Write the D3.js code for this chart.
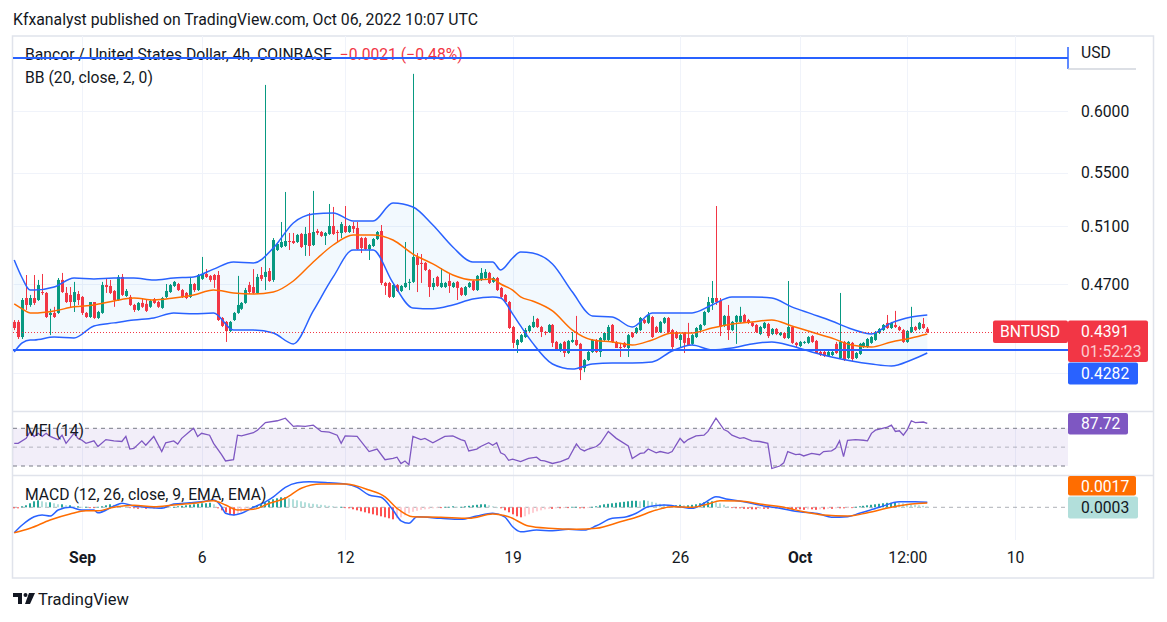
<!DOCTYPE html>
<html>
<head>
<meta charset="utf-8">
<script src="https://cdn.jsdelivr.net/npm/d3@7"></script>
<style>
body { margin: 0; background: #ffffff; }
svg { font-family: Roboto, "Noto Sans", sans-serif; }
</style>
</head>
<body>
<div id="chart"></div>
<script>
// ---- data ----
// 4h bars, first one opens Aug 29 04:00 UTC
var firstBar = Date.UTC(2022, 7, 29, 4);
var barMs = 4 * 3600 * 1000;

// [open, high, low, close]
var candles = [
  [0.4455,0.4467,0.4404,0.4417],[0.4455,0.4467,0.4349,0.4361],[0.4361,0.4608,0.4349,0.4595],[0.4608,0.4760,0.4531,0.4563],[0.4563,0.4628,0.4551,0.4608],
  [0.4608,0.4760,0.4563,0.4576],[0.4595,0.4727,0.4589,0.4693],[0.4647,0.4767,0.4628,0.4641],[0.4641,0.4647,0.4480,0.4486],[0.4499,0.4538,0.4373,0.4512],
  [0.4512,0.4551,0.4480,0.4486],[0.4512,0.4740,0.4506,0.4727],[0.4727,0.4774,0.4641,0.4647],[0.4641,0.4680,0.4576,0.4582],[0.4628,0.4680,0.4544,0.4582],
  [0.4582,0.4714,0.4518,0.4647],[0.4634,0.4654,0.4563,0.4595],[0.4615,0.4621,0.4499,0.4512],[0.4512,0.4518,0.4480,0.4486],[0.4486,0.4582,0.4480,0.4582],
  [0.4582,0.4582,0.4474,0.4480],[0.4480,0.4525,0.4474,0.4518],[0.4512,0.4714,0.4506,0.4693],[0.4693,0.4734,0.4641,0.4680],[0.4687,0.4727,0.4634,0.4641],
  [0.4654,0.4660,0.4551,0.4595],[0.4595,0.4760,0.4589,0.4747],[0.4747,0.4767,0.4621,0.4628],[0.4621,0.4667,0.4615,0.4654],[0.4615,0.4628,0.4557,0.4563],
  [0.4563,0.4570,0.4518,0.4531],[0.4531,0.4582,0.4525,0.4576],[0.4576,0.4601,0.4544,0.4551],[0.4570,0.4601,0.4518,0.4525],[0.4551,0.4595,0.4544,0.4589],
  [0.4601,0.4608,0.4570,0.4576],[0.4582,0.4589,0.4544,0.4551],[0.4544,0.4615,0.4538,0.4608],[0.4615,0.4700,0.4608,0.4654],[0.4647,0.4700,0.4641,0.4693],
  [0.4687,0.4720,0.4680,0.4714],[0.4700,0.4707,0.4654,0.4660],[0.4660,0.4667,0.4608,0.4615],[0.4641,0.4647,0.4601,0.4608],[0.4615,0.4747,0.4608,0.4700],
  [0.4700,0.4707,0.4647,0.4660],[0.4660,0.4767,0.4654,0.4760],[0.4734,0.4883,0.4727,0.4767],[0.4767,0.4800,0.4740,0.4747],[0.4754,0.4760,0.4714,0.4727],
  [0.4760,0.4767,0.4674,0.4727],[0.4760,0.4787,0.4461,0.4467],[0.4480,0.4486,0.4423,0.4430],[0.4455,0.4461,0.4331,0.4398],[0.4398,0.4461,0.4392,0.4455],
  [0.4467,0.4518,0.4461,0.4512],[0.4512,0.4754,0.4506,0.4563],[0.4538,0.4582,0.4531,0.4576],[0.4576,0.4674,0.4570,0.4660],[0.4693,0.4714,0.4634,0.4647],
  [0.4680,0.4800,0.4634,0.4641],[0.4641,0.4767,0.4634,0.4747],[0.4760,0.4814,0.4720,0.4734],[0.4747,0.6225,0.4660,0.4781],[0.4787,0.4807,0.4714,0.4720],
  [0.4727,0.5015,0.4714,0.5001],[0.4931,0.4980,0.4924,0.4973],[0.4952,0.5130,0.4945,0.4987],[0.4959,0.5352,0.4952,0.4994],[0.4994,0.5051,0.4931,0.4987],
  [0.4994,0.5051,0.4973,0.4980],[0.4987,0.5044,0.4980,0.5037],[0.5044,0.5051,0.4945,0.4952],[0.4966,0.5094,0.4890,0.5044],[0.5051,0.5196,0.4890,0.4959],
  [0.4966,0.5360,0.4959,0.5058],[0.5065,0.5080,0.5037,0.5051],[0.5058,0.5065,0.5023,0.5030],[0.5030,0.5058,0.4966,0.5051],[0.5044,0.5262,0.5037,0.5101],
  [0.5101,0.5240,0.5037,0.5044],[0.5058,0.5073,0.4987,0.5051],[0.5051,0.5130,0.5015,0.5115],[0.5101,0.5247,0.5051,0.5058],[0.5058,0.5108,0.5051,0.5101],
  [0.5101,0.5130,0.5051,0.5080],[0.5087,0.5130,0.4931,0.4938],[0.5015,0.5023,0.4910,0.4945],[0.5015,0.5023,0.4931,0.4938],[0.4938,0.4973,0.4862,0.4966],
  [0.4959,0.5015,0.4952,0.5008],[0.5008,0.5065,0.5001,0.5058],[0.5065,0.5108,0.4693,0.4707],[0.4707,0.4714,0.4628,0.4687],[0.4707,0.4714,0.4608,0.4615],
  [0.4615,0.4700,0.4608,0.4693],[0.4693,0.4700,0.4647,0.4654],[0.4654,0.4693,0.4647,0.4687],[0.4680,0.4987,0.4674,0.4707],[0.4707,0.4734,0.4660,0.4714],
  [0.4714,0.6323,0.4707,0.4883],[0.4883,0.4910,0.4647,0.4828],[0.4842,0.4903,0.4707,0.4835],[0.4842,0.4848,0.4787,0.4794],[0.4794,0.4800,0.4615,0.4680],
  [0.4680,0.4740,0.4660,0.4707],[0.4747,0.4754,0.4680,0.4687],[0.4680,0.4807,0.4674,0.4707],[0.4680,0.4714,0.4674,0.4707],[0.4720,0.4774,0.4641,0.4687],
  [0.4680,0.4714,0.4674,0.4707],[0.4714,0.4720,0.4595,0.4674],[0.4674,0.4680,0.4621,0.4628],[0.4628,0.4687,0.4621,0.4680],[0.4680,0.4714,0.4674,0.4707],
  [0.4720,0.4727,0.4654,0.4660],[0.4660,0.4760,0.4654,0.4754],[0.4727,0.4807,0.4720,0.4774],[0.4740,0.4800,0.4734,0.4781],[0.4774,0.4781,0.4700,0.4707],
  [0.4714,0.4747,0.4707,0.4740],[0.4740,0.4747,0.4654,0.4660],[0.4674,0.4680,0.4608,0.4615],[0.4628,0.4634,0.4576,0.4582],[0.4582,0.4589,0.4411,0.4417],
  [0.4423,0.4430,0.4294,0.4325],[0.4312,0.4349,0.4264,0.4343],[0.4331,0.4380,0.4325,0.4373],[0.4361,0.4417,0.4355,0.4404],[0.4398,0.4436,0.4392,0.4430],
  [0.4423,0.4493,0.4417,0.4455],[0.4474,0.4480,0.4417,0.4423],[0.4423,0.4430,0.4361,0.4392],[0.4392,0.4398,0.4373,0.4386],[0.4392,0.4442,0.4386,0.4436],
  [0.4436,0.4442,0.4300,0.4325],[0.4331,0.4337,0.4276,0.4282],[0.4276,0.4325,0.4270,0.4319],[0.4331,0.4337,0.4240,0.4264],[0.4264,0.4343,0.4258,0.4337],
  [0.4331,0.4392,0.4325,0.4343],[0.4343,0.4493,0.4306,0.4312],[0.4319,0.4325,0.4104,0.4162],[0.4174,0.4228,0.4150,0.4222],[0.4222,0.4276,0.4216,0.4270],
  [0.4270,0.4349,0.4264,0.4343],[0.4343,0.4349,0.4264,0.4270],[0.4270,0.4361,0.4240,0.4355],[0.4343,0.4392,0.4337,0.4386],[0.4343,0.4436,0.4337,0.4423],
  [0.4436,0.4442,0.4325,0.4331],[0.4331,0.4337,0.4294,0.4294],[0.4300,0.4325,0.4240,0.4294],[0.4325,0.4331,0.4294,0.4300],[0.4294,0.4380,0.4240,0.4373],
  [0.4386,0.4392,0.4355,0.4361],[0.4386,0.4423,0.4380,0.4417],[0.4404,0.4486,0.4398,0.4480],[0.4467,0.4474,0.4442,0.4449],[0.4449,0.4518,0.4442,0.4499],
  [0.4486,0.4493,0.4355,0.4361],[0.4423,0.4430,0.4386,0.4392],[0.4392,0.4461,0.4386,0.4455],[0.4449,0.4486,0.4442,0.4480],[0.4480,0.4486,0.4386,0.4392],
  [0.4404,0.4411,0.4282,0.4300],[0.4392,0.4398,0.4349,0.4355],[0.4343,0.4380,0.4300,0.4373],[0.4386,0.4392,0.4264,0.4325],[0.4355,0.4449,0.4306,0.4312],
  [0.4319,0.4380,0.4312,0.4373],[0.4361,0.4423,0.4355,0.4417],[0.4404,0.4442,0.4398,0.4436],[0.4436,0.4525,0.4430,0.4518],[0.4518,0.4615,0.4512,0.4582],
  [0.4576,0.4720,0.4531,0.4608],[0.4608,0.5247,0.4563,0.4582],[0.4589,0.4608,0.4367,0.4423],[0.4430,0.4499,0.4423,0.4493],[0.4493,0.4563,0.4343,0.4404],
  [0.4404,0.4461,0.4398,0.4455],[0.4455,0.4499,0.4319,0.4493],[0.4455,0.4551,0.4449,0.4493],[0.4499,0.4506,0.4449,0.4455],[0.4467,0.4474,0.4442,0.4449],
  [0.4449,0.4455,0.4423,0.4430],[0.4436,0.4442,0.4386,0.4392],[0.4380,0.4430,0.4373,0.4423],[0.4417,0.4455,0.4411,0.4449],[0.4442,0.4449,0.4355,0.4367],
  [0.4380,0.4417,0.4373,0.4411],[0.4411,0.4417,0.4373,0.4380],[0.4373,0.4392,0.4367,0.4386],[0.4386,0.4392,0.4349,0.4355],[0.4355,0.4720,0.4349,0.4423],
  [0.4423,0.4430,0.4319,0.4325],[0.4325,0.4331,0.4294,0.4312],[0.4306,0.4337,0.4300,0.4331],[0.4325,0.4337,0.4319,0.4331],[0.4325,0.4367,0.4319,0.4361],
  [0.4367,0.4373,0.4325,0.4331],[0.4337,0.4343,0.4258,0.4264],[0.4270,0.4276,0.4246,0.4252],[0.4270,0.4276,0.4240,0.4246],[0.4246,0.4276,0.4240,0.4270],
  [0.4252,0.4276,0.4246,0.4270],[0.4319,0.4331,0.4258,0.4264],[0.4234,0.4641,0.4228,0.4331],[0.4331,0.4337,0.4216,0.4222],[0.4234,0.4337,0.4228,0.4331],
  [0.4325,0.4331,0.4216,0.4228],[0.4234,0.4270,0.4228,0.4264],[0.4258,0.4325,0.4252,0.4319],[0.4300,0.4331,0.4294,0.4325],[0.4300,0.4355,0.4294,0.4349],
  [0.4325,0.4367,0.4319,0.4361],[0.4343,0.4398,0.4337,0.4392],[0.4386,0.4417,0.4380,0.4411],[0.4404,0.4442,0.4398,0.4436],[0.4449,0.4499,0.4411,0.4417],
  [0.4417,0.4455,0.4411,0.4449],[0.4436,0.4525,0.4417,0.4423],[0.4423,0.4430,0.4398,0.4404],[0.4404,0.4411,0.4325,0.4331],[0.4331,0.4404,0.4325,0.4398],
  [0.4392,0.4551,0.4386,0.4423],[0.4423,0.4430,0.4398,0.4404],[0.4411,0.4455,0.4404,0.4449],[0.4442,0.4480,0.4411,0.4417],[0.4412,0.4423,0.4386,0.4391]
];

// Bollinger bands, sampled at bar indexes
var bbIdx    = [0,2,4,5,10,15,20,25,30,35,40,45,50,55,60,65,70,75,80,85,90,95,100,105,110,115,120,122,125,127,130,135,140,145,150,155,160,165,170,175,180,185,190,195,200,205,210,215,220,225,229];
var bbUpper  = [0.4862,0.4740,0.4660,0.4660,0.4680,0.4740,0.4734,0.4740,0.4740,0.4727,0.4740,0.4747,0.4800,0.4848,0.4842,0.4945,0.5123,0.5188,0.5196,0.5137,0.5137,0.5270,0.5240,0.5108,0.4952,0.4848,0.4848,0.4794,0.4876,0.4917,0.4910,0.4835,0.4647,0.4493,0.4486,0.4423,0.4512,0.4512,0.4512,0.4563,0.4615,0.4615,0.4608,0.4551,0.4506,0.4461,0.4411,0.4380,0.4449,0.4486,0.4499];
var bbMiddle = [0.4570,0.4538,0.4512,0.4512,0.4525,0.4551,0.4563,0.4589,0.4608,0.4595,0.4608,0.4628,0.4660,0.4641,0.4634,0.4647,0.4720,0.4848,0.4966,0.5037,0.5037,0.5001,0.4903,0.4835,0.4760,0.4727,0.4734,0.4700,0.4660,0.4615,0.4589,0.4525,0.4404,0.4343,0.4331,0.4312,0.4343,0.4386,0.4386,0.4417,0.4442,0.4455,0.4467,0.4430,0.4392,0.4355,0.4312,0.4300,0.4331,0.4355,0.4380];
var bbLower  = [0.4270,0.4325,0.4343,0.4343,0.4361,0.4355,0.4430,0.4449,0.4467,0.4480,0.4512,0.4506,0.4512,0.4404,0.4404,0.4386,0.4319,0.4525,0.4747,0.4931,0.4931,0.4707,0.4544,0.4538,0.4563,0.4601,0.4615,0.4608,0.4506,0.4430,0.4325,0.4198,0.4168,0.4198,0.4204,0.4204,0.4210,0.4276,0.4312,0.4282,0.4294,0.4319,0.4331,0.4306,0.4270,0.4240,0.4216,0.4198,0.4186,0.4222,0.4264];

// MFI (14): [bar index, value]
var mfiPoints = [[0,56],[1,56],[3,64],[4,75],[5,67],[6,72],[7,67],[8,72],[9,67],[11,62],[12,69],[13,56],[14,64],[15,72],[16,64],[17,61],[18,56],[20,60],[21,51],[23,62],[25,60],[27,59],[28,67],[29,47],[30,48],[32,60],[33,53],[35,67],[37,43],[38,57],[40,60],[41,55],[42,64],[44,75],[45,80],[46,67],[47,72],[49,69],[50,56],[52,38],[53,28],[55,30],[56,69],[57,68],[60,73],[61,77],[63,89],[66,92],[68,96],[70,83],[71,84],[73,83],[75,85],[77,75],[79,74],[81,69],[82,56],[83,68],[86,67],[89,43],[91,47],[93,30],[95,32],[96,34],[97,24],[98,28],[99,22],[100,67],[102,62],[103,64],[105,57],[108,67],[110,68],[112,62],[113,60],[114,44],[116,47],[117,51],[119,57],[120,53],[121,57],[122,41],[123,38],[124,29],[125,31],[127,27],[129,32],[131,34],[132,29],[133,28],[135,24],[137,27],[139,32],[141,55],[142,47],[143,44],[144,47],[146,51],[147,56],[149,75],[151,64],[154,52],[155,32],[157,40],[158,41],[159,47],[161,41],[162,43],[164,40],[165,43],[167,64],[168,57],[169,62],[171,68],[173,69],[174,75],[176,96],[178,78],[179,75],[180,69],[182,64],[183,65],[185,60],[187,59],[189,56],[190,16],[192,20],[193,25],[194,43],[196,38],[197,39],[198,36],[200,40],[202,38],[203,43],[205,44],[206,48],[207,60],[208,35],[209,61],[211,62],[213,61],[214,60],[215,72],[216,77],[219,82],[220,85],[221,75],[222,76],[223,69],[224,78],[225,92],[226,89],[228,90],[229,87.72]];
var mfiBands = [80, 50, 20];

// MACD (12, 26, 9): [bar index, value]
var macdPoints = [[0,-0.0102],[2,-0.0071],[5,-0.0038],[7,-0.0031],[9,-0.0035],[11,-0.0011],[14,0],[17,-0.0011],[20,-0.0011],[21,-0.0022],[25,0.0005],[27,0.0016],[30,0.0005],[33,0],[37,-0.0004],[40,0.0013],[44,0.0018],[47,0.0022],[50,0.0029],[52,0.0002],[53,-0.0024],[55,-0.0031],[57,-0.0024],[60,0],[63,0.0022],[65,0.0042],[68,0.0080],[71,0.0098],[74,0.0102],[79,0.0098],[83,0.0093],[86,0.0080],[89,0.0049],[92,0.0040],[95,-0.0011],[97,-0.0054],[99,-0.0064],[101,-0.0038],[107,-0.0044],[112,-0.0048],[116,-0.0035],[120,-0.0024],[123,-0.0038],[125,-0.0078],[127,-0.0098],[131,-0.0091],[135,-0.0094],[139,-0.0088],[143,-0.0091],[146,-0.0074],[150,-0.0044],[153,-0.0040],[156,-0.0024],[159,0.0002],[163,0.0009],[167,0.0002],[170,-0.0004],[173,0.0016],[176,0.0042],[179,0.0032],[183,0.0022],[188,0.0005],[192,-0.0004],[197,-0.0018],[202,-0.0027],[205,-0.0040],[209,-0.0038],[212,-0.0024],[217,0],[222,0.0022],[226,0.0022],[229,0.0020]];
var signalPoints = [[0,-0.0102],[4,-0.0084],[9,-0.0051],[14,-0.0027],[18,-0.0014],[21,-0.0014],[25,0],[30,0.0008],[35,0.0002],[40,0.0009],[45,0.0016],[50,0.0026],[53,0.0009],[56,-0.0011],[60,-0.0008],[64,0.0016],[68,0.0036],[72,0.0076],[77,0.0093],[83,0.0093],[89,0.0069],[93,0.0042],[96,-0.0004],[100,-0.0038],[107,-0.0040],[114,-0.0044],[120,-0.0027],[124,-0.0038],[129,-0.0075],[134,-0.0084],[141,-0.0088],[146,-0.0084],[152,-0.0058],[156,-0.0040],[161,-0.0011],[165,0.0002],[170,0],[174,0.0013],[177,0.0026],[182,0.0025],[187,0.0013],[193,0],[198,-0.0018],[203,-0.0031],[209,-0.0035],[214,-0.0022],[220,0],[225,0.0013],[229,0.0017]];
// histogram, one per bar, in units of 0.0001
var histE4 = [
  -4,-4,4,8,16,24,28,24,20,20,
  16,12,12,8,8,4,4,2,2,-2,
  -2,2,4,8,12,10,8,4,2,-2,
  -4,-6,-4,-6,-4,-4,-2,2,4,2,
  2,4,6,8,10,12,14,16,16,18,
  12,-4,-12,-20,-28,-32,-28,-20,-12,-4,
  4,8,14,20,26,32,36,40,40,36,
  32,28,24,20,16,14,12,10,8,6,
  4,2,2,-2,-4,-8,-12,-16,-20,-24,
  -28,-32,-36,-40,-44,-48,-44,-40,-32,-24,
  -18,-14,-10,-8,-6,-4,-2,-2,2,2,
  4,2,2,4,6,8,10,12,12,8,
  4,0,-4,-12,-20,-28,-36,-40,-36,-28,
  -22,-16,-12,-8,-6,-6,-4,-4,-2,-2,
  2,2,-4,-4,-2,2,4,8,12,14,
  16,18,20,22,24,26,26,24,28,26,
  22,18,14,12,10,8,8,10,8,8,
  10,12,16,20,22,24,20,16,10,4,
  -2,-4,-4,-6,-6,-8,-8,-6,-6,-6,
  -4,-4,-4,-4,-6,-8,-8,-8,-10,-8,
  -8,-10,-8,-8,-6,-6,-4,-4,-4,-2,
  -2,2,4,6,8,10,12,14,16,18,
  18,20,18,16,14,12,10,8,6,3
];

// axes
var priceTicks = [0.60, 0.55, 0.51, 0.47];
var priceGrid = [0.60, 0.55, 0.51, 0.47, 0.4145];
var timeTicks = [Date.UTC(2022,8,1), Date.UTC(2022,8,6), Date.UTC(2022,8,12), Date.UTC(2022,8,19), Date.UTC(2022,8,26), Date.UTC(2022,9,1), Date.UTC(2022,9,5,12), Date.UTC(2022,9,10)];
var timeLabels = ["Sep", "6", "12", "19", "26", "Oct", "12:00", "10"];
var boldLabels = ["Sep", "Oct"];

// drawings / last values
var lastPrice = 0.4391;
var supportLine = 0.4282;
var topLine = 0.6467;

// ---- layout ----
var svgWidth = 1167, svgHeight = 622;
var plot = { left: 13, right: 1068 };
var pricePane = { top: 36, bottom: 411 };
var mfiPane = { top: 412, bottom: 475 };
var macdPane = { top: 476, bottom: 540 };
var fontSize = 15.7;

var up = "#089981", down = "#F23645";

var svg = d3.select("#chart").append("svg")
    .attr("width", svgWidth)
    .attr("height", svgHeight);

var barTime = function(i) { return new Date(firstBar + i * barMs); };

var x = d3.scaleUtc()
    .domain([new Date(Date.UTC(2022, 8, 1)), new Date(Date.UTC(2022, 9, 10))])
    .range([82, 1015]);

var yPrice = d3.scaleLog().domain([0.47, 0.60]).range([284, 111]);
var yMfi = d3.scaleLinear().domain([20, 80]).range([466, 428.3]);
var yMacd = d3.scaleLinear().domain([0, 0.01]).range([507.3, 482.3]);

// clip paths for the three panes
var defs = svg.append("defs");
[["clipPrice", pricePane], ["clipMfi", mfiPane], ["clipMacd", macdPane]].forEach(function(c) {
    defs.append("clipPath").attr("id", c[0]).append("rect")
        .attr("x", plot.left).attr("y", c[1].top)
        .attr("width", plot.right - plot.left).attr("height", c[1].bottom - c[1].top);
});

// header
svg.append("text")
    .attr("x", 13).attr("y", 19).attr("dy", "0.35em")
    .attr("font-size", 15.8).attr("fill", "#131722")
    .text("Kfxanalyst published on TradingView.com, Oct 06, 2022 10:07 UTC");

// frame
svg.append("rect")
    .attr("x", 12.5).attr("y", 36).attr("width", 1141).attr("height", 542)
    .attr("fill", "none").attr("stroke", "#e0e3eb").attr("stroke-width", 1.5);

// vertical grid
svg.append("g").selectAll("line")
    .data(timeTicks)
    .enter().append("line")
    .attr("x1", d => Math.round(x(d)) + 0.5).attr("x2", d => Math.round(x(d)) + 0.5)
    .attr("y1", pricePane.top).attr("y2", macdPane.bottom)
    .attr("stroke", "#f0f3fa");

// horizontal price grid
svg.append("g").selectAll("line")
    .data(priceGrid)
    .enter().append("line")
    .attr("x1", plot.left).attr("x2", plot.right)
    .attr("y1", d => Math.round(yPrice(d)) + 0.5).attr("y2", d => Math.round(yPrice(d)) + 0.5)
    .attr("stroke", "#f0f3fa");

// pane separators
[mfiPane.top - 0.5, macdPane.top - 0.5].forEach(function(yy) {
    svg.append("line").attr("x1", 12).attr("x2", 1154).attr("y1", yy).attr("y2", yy)
        .attr("stroke", "#e0e3eb").attr("stroke-width", 1.5);
});

// ---- price pane ----
var pricePlot = svg.append("g").attr("clip-path", "url(#clipPrice)");

var bbData = bbIdx.map(function(d, k) {
    return { t: barTime(d), u: bbUpper[k], m: bbMiddle[k], l: bbLower[k] };
});

pricePlot.append("path")
    .datum(bbData)
    .attr("fill", "rgba(33,150,243,0.06)")
    .attr("d", d3.area().curve(d3.curveMonotoneX)
        .x(d => x(d.t)).y0(d => yPrice(d.l)).y1(d => yPrice(d.u)));

// candles
var candleGroup = pricePlot.append("g");
candleGroup.selectAll(".wick")
    .data(candles)
    .enter().append("rect")
    .attr("class", "wick")
    .attr("x", (d, i) => Math.round(x(barTime(i))))
    .attr("width", 1)
    .attr("y", d => yPrice(d[1]))
    .attr("height", d => Math.max(1, yPrice(d[2]) - yPrice(d[1])))
    .attr("fill", d => d[3] >= d[0] ? up : down);

candleGroup.selectAll(".body")
    .data(candles)
    .enter().append("rect")
    .attr("class", "body")
    .attr("x", (d, i) => Math.round(x(barTime(i))) - 1)
    .attr("width", 3)
    .attr("y", d => yPrice(Math.max(d[0], d[3])))
    .attr("height", d => Math.max(1, Math.abs(yPrice(d[0]) - yPrice(d[3]))))
    .attr("fill", d => d[3] >= d[0] ? up : down);

// bands on top of candles
var bandLine = function(key) {
    return d3.line().curve(d3.curveMonotoneX).x(d => x(d.t)).y(d => yPrice(d[key]));
};
pricePlot.append("path").datum(bbData).attr("fill", "none")
    .attr("stroke", "#FF6D00").attr("stroke-width", 1.5).attr("d", bandLine("m"));
pricePlot.append("path").datum(bbData).attr("fill", "none")
    .attr("stroke", "#2962FF").attr("stroke-width", 1.5).attr("d", bandLine("u"));
pricePlot.append("path").datum(bbData).attr("fill", "none")
    .attr("stroke", "#2962FF").attr("stroke-width", 1.5).attr("d", bandLine("l"));

// last price dotted line
svg.append("line")
    .attr("x1", plot.left).attr("x2", 993)
    .attr("y1", Math.round(yPrice(lastPrice)) + 0.5).attr("y2", Math.round(yPrice(lastPrice)) + 0.5)
    .attr("stroke", down).attr("stroke-dasharray", "1,2");

// legend text
var legend = svg.append("g").attr("font-size", fontSize).attr("fill", "#131722");
var legendTitle = legend.append("text").attr("x", 25).attr("y", 55).attr("dy", "0.35em");
legendTitle.append("tspan").text("Bancor / United States Dollar, 4h, COINBASE ");
legendTitle.append("tspan").attr("fill", down).attr("dx", 4).text("\u22120.0021 (\u22120.48%)");
legend.append("text").attr("x", 25).attr("y", 78).attr("dy", "0.35em").text("BB (20, close, 2, 0)");

// horizontal drawings
[topLine, supportLine].forEach(function(v) {
    svg.append("line")
        .attr("x1", plot.left).attr("x2", plot.right)
        .attr("y1", yPrice(v)).attr("y2", yPrice(v))
        .attr("stroke", "#2962FF").attr("stroke-width", 2);
});
svg.append("line").attr("x1", plot.right).attr("x2", plot.right)
    .attr("y1", 47).attr("y2", 69).attr("stroke", "#2962FF").attr("stroke-width", 1.5);
svg.append("line").attr("x1", plot.right).attr("x2", 1136)
    .attr("y1", 69).attr("y2", 69).attr("stroke", "#d1d4dc").attr("stroke-width", 1.5);
svg.append("text").attr("x", 1081).attr("y", 53).attr("dy", "0.35em")
    .attr("font-size", fontSize).attr("fill", "#131722").text("USD");

// price axis
var priceAxis = svg.append("g")
    .attr("transform", `translate(${plot.right}, 0)`)
    .call(d3.axisRight(yPrice).tickValues(priceTicks).tickFormat(d3.format(".4f")).tickSize(0).tickPadding(13));
priceAxis.select(".domain").remove();
priceAxis.attr("font-family", null).attr("font-size", fontSize);
priceAxis.selectAll("text").attr("fill", "#131722");

// ---- MFI pane ----
var mfiPlot = svg.append("g").attr("clip-path", "url(#clipMfi)");
mfiPlot.append("rect")
    .attr("x", plot.left).attr("width", plot.right - plot.left)
    .attr("y", yMfi(80)).attr("height", yMfi(20) - yMfi(80))
    .attr("fill", "rgba(126,87,194,0.1)");
mfiPlot.selectAll(".band")
    .data(mfiBands)
    .enter().append("line")
    .attr("x1", plot.left).attr("x2", plot.right)
    .attr("y1", d => yMfi(d)).attr("y2", d => yMfi(d))
    .attr("stroke", d => d === 50 ? "rgba(120,123,134,0.5)" : "#787B86")
    .attr("stroke-dasharray", "4,4");
mfiPlot.append("path")
    .datum(mfiPoints)
    .attr("fill", "none").attr("stroke", "#7E57C2").attr("stroke-width", 1.3)
    .attr("d", d3.line().x(d => x(barTime(d[0]))).y(d => yMfi(d[1])));
svg.append("text").attr("x", 25).attr("y", 431).attr("dy", "0.35em")
    .attr("font-size", fontSize).attr("fill", "#131722").text("MFI (14)");

// ---- MACD pane ----
var macdPlot = svg.append("g").attr("clip-path", "url(#clipMacd)");
macdPlot.append("line")
    .attr("x1", plot.left).attr("x2", plot.right)
    .attr("y1", yMacd(0)).attr("y2", yMacd(0))
    .attr("stroke", "rgba(120,123,134,0.6)").attr("stroke-dasharray", "4,4");

macdPlot.selectAll(".hist")
    .data(histE4)
    .enter().append("rect")
    .attr("class", "hist")
    .attr("x", (d, i) => Math.round(x(barTime(i))) - 1)
    .attr("width", 2)
    .attr("y", d => Math.min(yMacd(0), yMacd(d / 10000)))
    .attr("height", d => Math.max(0.8, Math.abs(yMacd(d / 10000) - yMacd(0))))
    .attr("fill", function(d, i) {
        var prev = i > 0 ? histE4[i - 1] : d;
        if (d >= 0) return d >= prev ? "#26A69A" : "#B2DFDB";
        return d <= prev ? "#FF5252" : "#FFCDD2";
    });

var macdLine = d3.line().curve(d3.curveMonotoneX).x(d => x(barTime(d[0]))).y(d => yMacd(d[1]));
macdPlot.append("path").datum(macdPoints).attr("fill", "none")
    .attr("stroke", "#2962FF").attr("stroke-width", 1.5).attr("d", macdLine);
macdPlot.append("path").datum(signalPoints).attr("fill", "none")
    .attr("stroke", "#FF6D00").attr("stroke-width", 1.5).attr("d", macdLine);
svg.append("text").attr("x", 25).attr("y", 495).attr("dy", "0.35em")
    .attr("font-size", fontSize).attr("fill", "#131722").text("MACD (12, 26, close, 9, EMA, EMA)");

// ---- right side value labels ----
function valueLabel(x0, y0, w, h, fill, lines, textFill) {
    var g = svg.append("g");
    g.append("rect").attr("x", x0).attr("y", y0).attr("width", w).attr("height", h)
        .attr("rx", 2).attr("fill", fill);
    lines.forEach(function(t, k) {
        g.append("text").attr("x", x0 + 13).attr("y", y0 + 11 + k * 20).attr("dy", "0.35em")
            .attr("font-size", fontSize).attr("fill", k === 0 ? textFill : "rgba(255,255,255,0.75)").text(t);
    });
}
svg.append("rect").attr("x", 993).attr("y", 320.5).attr("width", 75).attr("height", 22.5)
    .attr("rx", 2).attr("fill", down);
svg.append("text").attr("x", 1030).attr("y", 332).attr("dy", "0.35em").attr("text-anchor", "middle")
    .attr("font-size", fontSize).attr("fill", "#ffffff").text("BNTUSD");
valueLabel(plot.right, 320.5, 80, 41.5, down, [d3.format(".4f")(lastPrice), "01:52:23"], "#ffffff");
valueLabel(plot.right, 362.5, 70, 22, "#2962FF", [d3.format(".4f")(supportLine)], "#ffffff");
valueLabel(plot.right, 413, 60, 21.5, "#7E57C2", ["87.72"], "#ffffff");
valueLabel(plot.right, 476, 68, 19.5, "#FF6D00", ["0.0017"], "#ffffff");
valueLabel(plot.right, 496.5, 70, 22, "#B2DFDB", ["0.0003"], "#131722");

// ---- time axis ----
var timeAxis = svg.append("g")
    .attr("transform", `translate(0, ${macdPane.bottom})`)
    .call(d3.axisBottom(x).tickValues(timeTicks.map(d => new Date(d)))
        .tickFormat((d, i) => timeLabels[i]).tickSize(0).tickPadding(12));
timeAxis.select(".domain").remove();
timeAxis.attr("font-family", null).attr("font-size", fontSize);
timeAxis.selectAll("text")
    .attr("fill", "#131722")
    .attr("font-weight", (d, i) => boldLabels.indexOf(timeLabels[i]) >= 0 ? "bold" : null);

// ---- footer logo ----
var logo = svg.append("g").attr("fill", "#131722");
logo.append("path").attr("d", "M13,593 h9 v11 h-4 v-7 h-5 z");
logo.append("circle").attr("cx", 25.5).attr("cy", 595).attr("r", 2);
logo.append("path").attr("d", "M29,593 h6 l-5,11 h-5 z");
svg.append("text").attr("x", 38).attr("y", 599).attr("dy", "0.35em")
    .attr("font-size", 16.5).attr("fill", "#131722").text("TradingView");
</script>
</body>
</html>
